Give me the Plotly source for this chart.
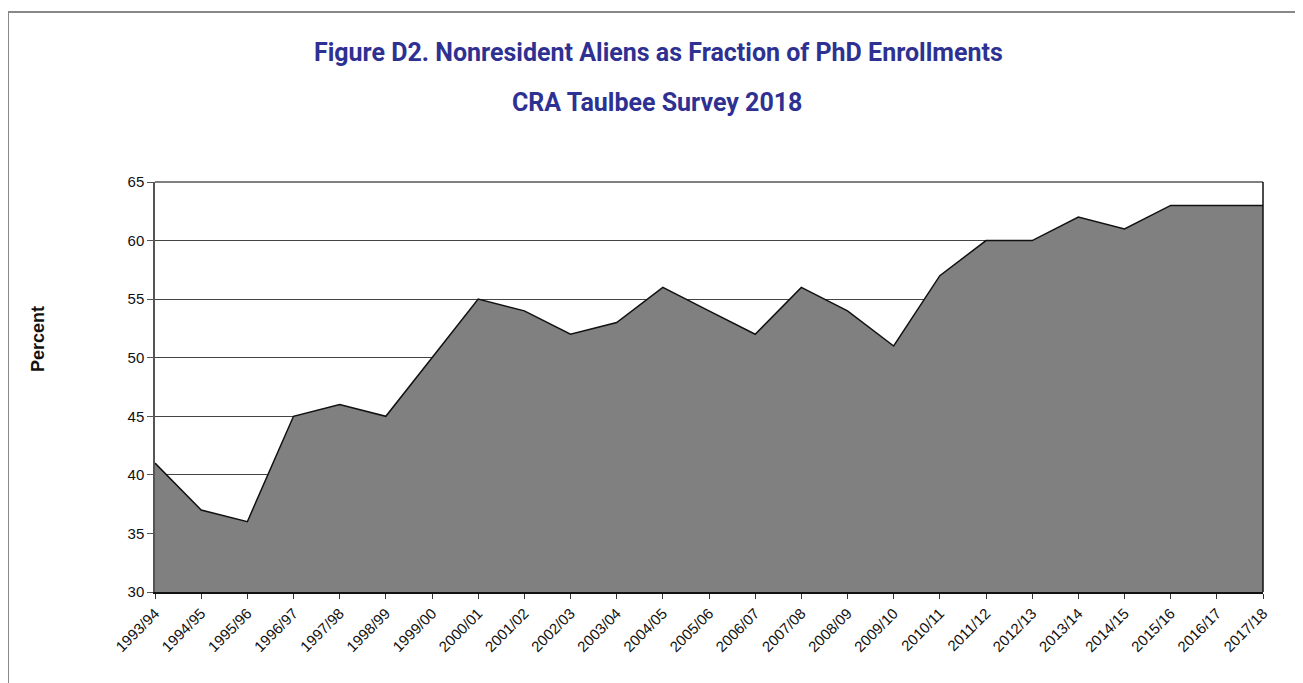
import plotly.graph_objects as go

years = ["1993/94", "1994/95", "1995/96", "1996/97", "1997/98", "1998/99", "1999/00",
         "2000/01", "2001/02", "2002/03", "2003/04", "2004/05", "2005/06", "2006/07",
         "2007/08", "2008/09", "2009/10", "2010/11", "2011/12", "2012/13", "2013/14",
         "2014/15", "2015/16", "2016/17", "2017/18"]
percent = [41, 37, 36, 45, 46, 45, 50, 55, 54, 52, 53, 56, 54, 52, 56, 54, 51, 57,
           60, 60, 62, 61, 63, 63, 63]
y_ticks = [30, 35, 40, 45, 50, 55, 60, 65]

title_line1 = "Figure D2. Nonresident Aliens as Fraction of PhD Enrollments"
title_line2 = "CRA Taulbee Survey 2018"
y_label = "Percent"

OFF = 8  # page body margin
W, H = 1303 - OFF, 683 - OFF
PL, PR, PT, PB = 155, 1263, 182, 592  # plot area in page pixels
L, T = PL - OFF, PT - OFF
R, B = (OFF + W) - PR, (OFF + H) - PB
pw, ph = PR - PL, PB - PT

def px(x):
    return (x - PL) / pw

def py(y):
    return (PB - y) / ph

fig = go.Figure()
fig.add_trace(go.Scatter(
    x=years, y=percent, mode="lines", fill="tozeroy",
    fillcolor="#808080", line=dict(color="#111111", width=1.5),
    hoverinfo="x+y", showlegend=False))

sans = "Liberation Sans, Arial, Helvetica, sans-serif"

fig.update_layout(
    width=W, height=H,
    margin=dict(l=L, r=R, t=T, b=B),
    paper_bgcolor="white", plot_bgcolor="white",
    xaxis=dict(type="category", range=[0, len(years) - 1], tickangle=-45,
               ticks="outside", ticklen=5, tickcolor="#333",
               tickfont=dict(family=sans, size=15, color="#111"),
               showgrid=False, showline=True, linecolor="#111", linewidth=1.5,
               zeroline=False),
    yaxis=dict(range=[30, 65], tickvals=y_ticks, ticks="outside", ticklen=6,
               tickcolor="#555", tickfont=dict(family=sans, size=15, color="#111"),
               showgrid=True, gridcolor="#444", gridwidth=1, showline=True,
               linecolor="#555", linewidth=1.5, zeroline=False),
    annotations=[
        dict(text="<b>" + title_line1 + "</b>", xref="paper", yref="paper",
             x=px(658), y=py(53), showarrow=False, xanchor="center", yanchor="middle",
             font=dict(family="Roboto, sans-serif", size=25, color="#2e3192")),
        dict(text="<b>" + title_line2 + "</b>", xref="paper", yref="paper",
             x=px(657), y=py(102), showarrow=False, xanchor="center", yanchor="middle",
             font=dict(family="Roboto, sans-serif", size=25, color="#2e3192")),
        dict(text="<b>" + y_label + "</b>", xref="paper", yref="paper",
             x=px(38), y=py(339), showarrow=False, xanchor="center", yanchor="middle",
             textangle=-90, font=dict(family=sans, size=18, color="#111")),
    ],
    shapes=[
        dict(type="line", xref="paper", yref="paper", x0=px(8), x1=px(1303), y0=py(12), y1=py(12),
             line=dict(color="#888", width=2)),
        dict(type="line", xref="paper", yref="paper", x0=px(8), x1=px(8), y0=py(12), y1=py(683),
             line=dict(color="#888", width=2)),
        dict(type="line", xref="paper", yref="paper", x0=0, x1=1, y0=1, y1=1,
             line=dict(color="#808080", width=2)),
        dict(type="line", xref="paper", yref="paper", x0=1, x1=1, y0=0, y1=1,
             line=dict(color="#111", width=1.5)),
    ],
)

fig.write_html("out.html")
